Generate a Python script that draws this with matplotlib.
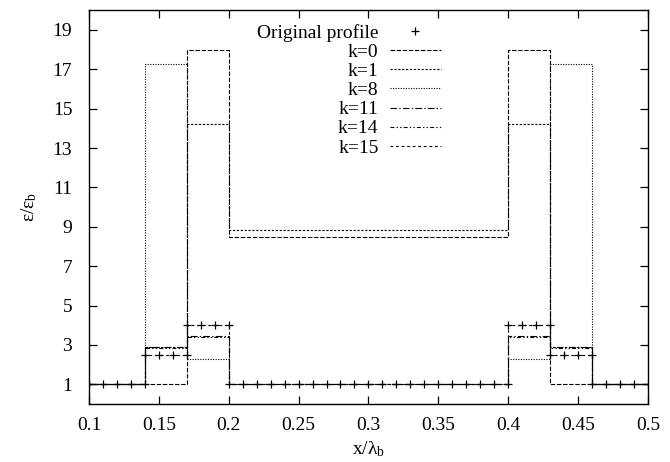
import matplotlib
matplotlib.use("Agg")
import matplotlib.pyplot as plt

plt.rcParams['font.family'] = ['Liberation Serif', 'DejaVu Serif']
plt.rcParams['mathtext.fontset'] = 'custom'
plt.rcParams['mathtext.rm'] = 'Liberation Serif'
plt.rcParams['mathtext.it'] = 'Liberation Serif'

# layer edges (x/lambda_b) and piecewise-constant permittivity per layer
edges = [0.10, 0.14, 0.17, 0.20, 0.40, 0.43, 0.46, 0.50]
k0 = [1.0, 1.0, 18.0, 8.5, 18.0, 1.0, 1.0]
k1 = [1.0, 2.9, 14.2, 8.85, 14.2, 2.9, 1.0]
k8 = [1.0, 17.25, 2.28, 1.0, 2.28, 17.25, 1.0]
k11 = [1.0, 2.92, 3.47, 1.0, 3.47, 2.92, 1.0]
k14 = [1.0, 2.85, 3.42, 1.0, 3.42, 2.85, 1.0]
k15 = [1.0, 2.5, 4.0, 1.0, 4.0, 2.5, 1.0]

# original profile samples
orig_x = [0.10, 0.11, 0.12, 0.13, 0.14,
          0.14, 0.15, 0.16, 0.17,
          0.17, 0.18, 0.19, 0.20,
          0.20, 0.21, 0.22, 0.23, 0.24, 0.25, 0.26, 0.27, 0.28, 0.29, 0.30,
          0.31, 0.32, 0.33, 0.34, 0.35, 0.36, 0.37, 0.38, 0.39, 0.40,
          0.40, 0.41, 0.42, 0.43,
          0.43, 0.44, 0.45, 0.46,
          0.46, 0.47, 0.48, 0.49, 0.50]
orig_y = [1, 1, 1, 1, 1,
          2.5, 2.5, 2.5, 2.5,
          4, 4, 4, 4,
          1, 1, 1, 1, 1, 1, 1, 1, 1, 1, 1,
          1, 1, 1, 1, 1, 1, 1, 1, 1, 1,
          4, 4, 4, 4,
          2.5, 2.5, 2.5, 2.5,
          1, 1, 1, 1, 1]

series = [
    ("k=0", k0, (0, (4, 1.5))),
    ("k=1", k1, (0, (2, 1.5))),
    ("k=8", k8, (0, (1, 1.3))),
    ("k=11", k11, (0, (6, 2, 1.2, 2))),
    ("k=14", k14, (0, (3.5, 2, 1.2, 2, 1.2, 2))),
    ("k=15", k15, (0, (2.5, 2.5))),
]

FS = 14

fig = plt.figure(figsize=(6.7, 4.62), dpi=100)
ax = fig.add_axes([0.1328, 0.1255, 0.8342, 0.8525])

ax.plot(orig_x, orig_y, linestyle='none', marker='+', markersize=6,
        markeredgewidth=0.9, color='black', label='Original profile')
for name, vals, ls in series:
    ax.step(edges, vals + [vals[-1]], where='post', color='black',
            linewidth=0.8, linestyle=ls, label=name)

ax.set_xlim(0.1, 0.5)
ax.set_ylim(0, 20)
xt = [0.1, 0.15, 0.2, 0.25, 0.3, 0.35, 0.4, 0.45, 0.5]
ax.set_xticks(xt)
ax.set_xticklabels(["0.1", "0.15", "0.2", "0.25", "0.3", "0.35", "0.4", "0.45", "0.5"])
ax.set_yticks([1, 3, 5, 7, 9, 11, 13, 15, 17, 19])
ax.tick_params(direction='in', length=6, width=0.9, top=True, right=True,
               labelsize=FS, colors='black')
ax.tick_params(axis='x', pad=9)
ax.tick_params(axis='y', pad=12)
for s in ax.spines.values():
    s.set_linewidth(1.0)

ax.set_xlabel(r"x/$\lambda_{\mathrm{b}}$", fontsize=FS, labelpad=4)
ax.set_ylabel(r"$\epsilon$/$\epsilon_{\mathrm{b}}$", fontsize=FS, labelpad=10)

leg = ax.legend(loc='upper center', bbox_to_anchor=(0.465, 1.0), frameon=False,
                fontsize=FS, markerfirst=False, handlelength=2.6,
                labelspacing=0.08, handletextpad=0.6, borderaxespad=0.3)
for t in leg.get_texts():
    t.set_ha('right')
leg._legend_box.align = "right"

fig.savefig("out.png", dpi=100)
